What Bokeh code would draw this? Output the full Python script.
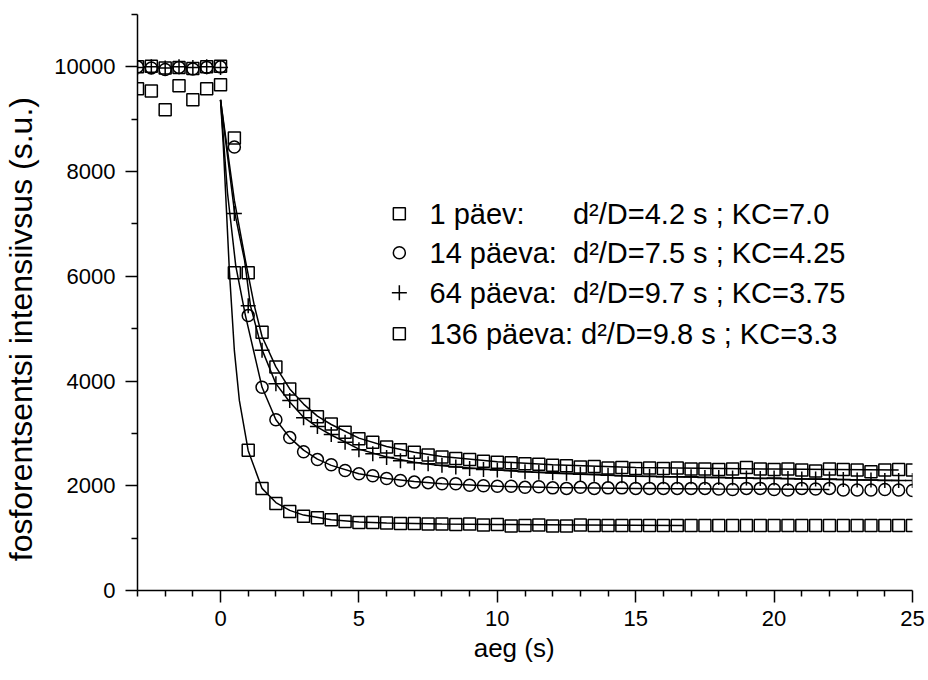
from bokeh.plotting import figure
from bokeh.models import Range1d, FixedTicker, BasicTickFormatter
from bokeh.core.properties import value
from bokeh.embed import file_html
from bokeh.resources import INLINE

# measurement times (s)
t = [-3.0, -2.5, -2.0, -1.5, -1.0, -0.5, 0.0,
     0.5, 1.0, 1.5, 2.0, 2.5, 3.0, 3.5, 4.0, 4.5, 5.0,
     5.5, 6.0, 6.5, 7.0, 7.5, 8.0, 8.5, 9.0, 9.5, 10.0,
     10.5, 11.0, 11.5, 12.0, 12.5, 13.0, 13.5, 14.0, 14.5, 15.0,
     15.5, 16.0, 16.5, 17.0, 17.5, 18.0, 18.5, 19.0, 19.5, 20.0,
     20.5, 21.0, 21.5, 22.0, 22.5, 23.0, 23.5, 24.0, 24.5, 25.0]

# measured intensities (s.u.)
i_1 = [9580, 9540, 9180, 9640, 9370, 9580, 9660,
       6070, 2680, 1950, 1660, 1510, 1420, 1390, 1350, 1320, 1300,
       1300, 1290, 1280, 1280, 1270, 1270, 1260, 1270, 1250, 1260,
       1230, 1240, 1250, 1230, 1230, 1250, 1240, 1240, 1240, 1240,
       1240, 1240, 1240, 1240, 1240, 1240, 1240, 1240, 1240, 1240,
       1240, 1240, 1240, 1240, 1240, 1240, 1240, 1240, 1240, 1240]
i_14 = [10000, 9980, 9950, 9990, 9960, 9990, 10000,
        8470, 5250, 3880, 3260, 2920, 2650, 2500, 2400, 2290, 2230,
        2190, 2140, 2100, 2070, 2060, 2040, 2040, 2010, 2000, 1990,
        1990, 1970, 1980, 1960, 1950, 1970, 1950, 1960, 1960, 1950,
        1950, 1950, 1950, 1950, 1950, 1940, 1930, 1950, 1950, 1930,
        1920, 1950, 1940, 1950, 1920, 1920, 1920, 1930, 1920, 1910]
i_64 = [9990, 10000, 9980, 10000, 9990, 10000, 9990,
        7200, 5440, 4590, 3950, 3630, 3300, 3130, 2980, 2830, 2690,
        2610, 2540, 2480, 2440, 2420, 2390, 2360, 2330, 2310, 2300,
        2290, 2270, 2260, 2250, 2240, 2220, 2220, 2200, 2190, 2180,
        2180, 2170, 2170, 2170, 2160, 2160, 2150, 2150, 2140, 2150,
        2140, 2130, 2130, 2130, 2120, 2110, 2110, 2100, 2100, 2100]
i_136 = [10000, 10010, 9980, 9990, 9970, 10000, 10010,
         8640, 6070, 4930, 4270, 3850, 3550, 3320, 3180, 3020, 2900,
         2830, 2740, 2690, 2640, 2590, 2550, 2520, 2500, 2470, 2450,
         2440, 2420, 2410, 2390, 2380, 2360, 2370, 2340, 2350, 2330,
         2340, 2330, 2340, 2320, 2320, 2310, 2320, 2350, 2320, 2310,
         2320, 2300, 2280, 2320, 2310, 2300, 2270, 2300, 2310, 2300]

# model curves
fit_t_1 = [0, 0.1, 0.18, 0.32, 0.5, 0.68, 1.0, 1.5, 2.0, 2.5, 3.0, 4.0, 5.0, 6.0, 8.0, 10.0, 13.0, 16.7]
fit_1 = [9370, 8500, 7630, 6100, 4580, 3630, 2670, 1950, 1680, 1530, 1440, 1350, 1310, 1290, 1270, 1260, 1250, 1240]
fit_t_14 = [0, 0.25, 0.55, 0.9, 1.5, 2.0, 2.5, 3.0, 3.5, 4.0, 5.0, 6.0, 7.0, 8.0, 10.0, 12.0, 15.0, 18.0, 22.0]
fit_14 = [9370, 7600, 6200, 5250, 3880, 3260, 2920, 2680, 2510, 2390, 2230, 2140, 2080, 2040, 1990, 1965, 1950, 1940, 1930]
fit_t_64 = [0, 0.5, 0.87, 1.08, 1.5, 2.0, 2.5, 3.0, 3.5, 4.0, 5.0, 6.0, 7.0, 8.0, 10.0, 12.0, 15.0, 20.0, 24.5]
fit_64 = [9370, 7250, 6300, 5440, 4600, 3950, 3600, 3310, 3120, 2970, 2700, 2550, 2450, 2380, 2300, 2240, 2180, 2140, 2100]
fit_t_136 = [0, 0.5, 0.9, 1.22, 1.5, 2.0, 2.5, 3.0, 3.5, 4.0, 5.0, 6.0, 7.0, 8.0, 10.0, 12.0, 15.0, 20.0, 24.5]
fit_136 = [9370, 7450, 6300, 5440, 4850, 4270, 3850, 3560, 3330, 3170, 2910, 2750, 2640, 2560, 2460, 2400, 2350, 2320, 2300]

NB = "\u00a0"  # non-breaking space: kept as-is in SVG text
legend_labels = [
    "1 päev:" + NB * 6 + "d²/D=4.2 s ; KC=7.0",
    "14 päeva:" + NB * 2 + "d²/D=7.5 s ; KC=4.25",
    "64 päeva:" + NB * 2 + "d²/D=9.7 s ; KC=3.75",
    "136 päeva:" + NB + "d²/D=9.8 s ; KC=3.3",
]
legend_markers = ["square", "circle", "cross", "square"]

x_major = [0, 5, 10, 15, 20, 25]
x_minor = [-3, -2, -1, 1, 2, 3, 4, 6, 7, 8, 9, 11, 12, 13, 14, 16, 17, 18, 19, 21, 22, 23, 24]
y_major = [0, 2000, 4000, 6000, 8000, 10000]
y_minor = [1000, 3000, 5000, 7000, 9000, 11000]

FONT = "Liberation Sans"

p = figure(width=928, height=680,
           x_range=Range1d(-3, 25), y_range=Range1d(0, 11000),
           output_backend="svg", toolbar_location=None,
           min_border_left=136, min_border_right=16,
           min_border_top=14, min_border_bottom=90)
p.outline_line_color = None
p.xgrid.visible = False
p.ygrid.visible = False
p.background_fill_color = "white"
p.border_fill_color = "white"

p.xaxis.ticker = FixedTicker(ticks=x_major, minor_ticks=x_minor)
p.yaxis.ticker = FixedTicker(ticks=y_major, minor_ticks=y_minor)
p.yaxis.formatter = BasicTickFormatter(use_scientific=False)

for ax in (p.xaxis, p.yaxis):
    ax.axis_line_width = 1.5
    ax.axis_line_color = "black"
    ax.major_tick_line_width = 1.5
    ax.minor_tick_line_width = 1.5
    ax.major_tick_line_color = "black"
    ax.minor_tick_line_color = "black"
    ax.major_tick_in = 0
    ax.minor_tick_in = 0
    ax.major_tick_out = 12
    ax.minor_tick_out = 6
    ax.major_label_text_font = FONT
    ax.major_label_text_font_size = "22px"
    ax.major_label_text_color = "black"
    ax.axis_label_text_font = FONT
    ax.axis_label_text_font_style = "normal"
    ax.axis_label_text_color = "black"

p.xaxis.major_label_standoff = 8
p.yaxis.major_label_standoff = 10

# axis titles; trailing spaces shift the centred titles towards their start
p.xaxis.axis_label = "aeg (s)" + NB * 3
p.xaxis.axis_label_text_font_size = "26px"
p.xaxis.axis_label_standoff = 4
p.yaxis.axis_label = "fosforentsentsi intensiivsus (s.u.)" + NB * 6
p.yaxis.axis_label_text_font_size = "32px"
p.yaxis.axis_label_standoff = 12

# fitted curves
for ft, fv in ((fit_t_1, fit_1), (fit_t_14, fit_14), (fit_t_64, fit_64), (fit_t_136, fit_136)):
    p.line(ft, fv, line_color="black", line_width=1.5)

# measured points
style = dict(line_color="black", line_width=1.5, fill_color=None)
p.scatter(t, i_1, marker="square", size=12, **style)
p.scatter(t, i_14, marker="circle", size=12, **style)
p.scatter(t, i_64, marker="cross", size=15, **style)
p.scatter(t, i_136, marker="square", size=12, **style)

# legend block
leg_y = [7195, 6450, 5687, 4905]
for k, (lab, mk) in enumerate(zip(legend_labels, legend_markers)):
    sz = 15 if mk == "cross" else 12
    p.scatter([6.46], [leg_y[k]], marker=mk, size=sz, **style)
    p.text([7.55], [leg_y[k]], text=[lab], text_font=value(FONT),
           text_font_size="29px", text_baseline="middle", text_align="left",
           text_color="black")

open("out.html", "w").write(file_html(p, INLINE))
